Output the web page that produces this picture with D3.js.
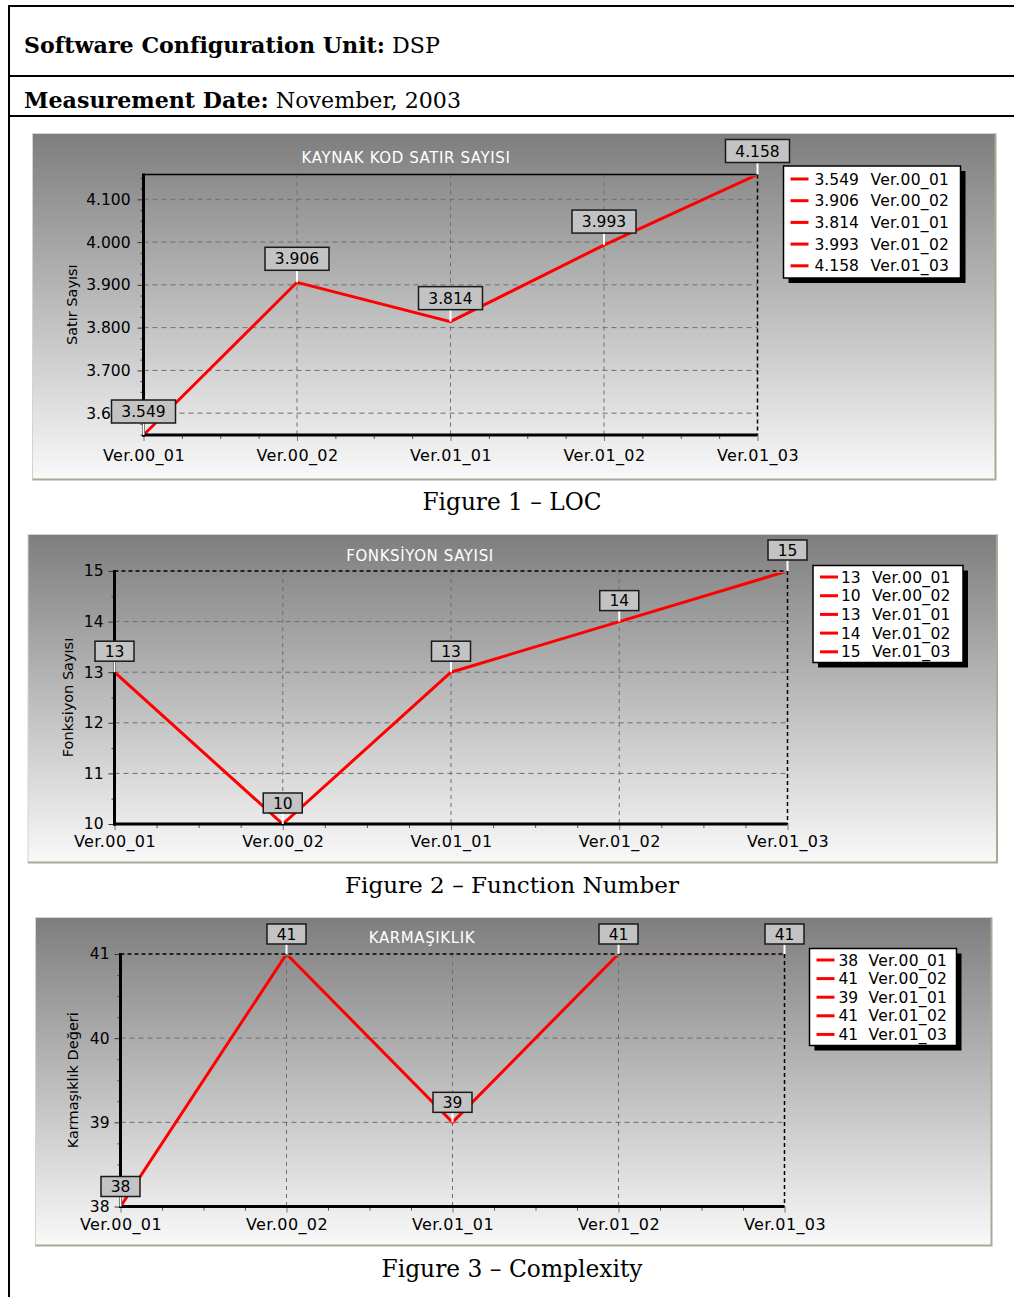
<!DOCTYPE html>
<html><head><meta charset="utf-8">
<script src="https://cdn.jsdelivr.net/npm/d3@7"></script>
<style>body{margin:0;background:#fff}svg{display:block}</style>
</head><body>
<svg id="page" width="1014" height="1297"></svg>
<script>
// Software versions measured
const versions = ["Ver.00_01", "Ver.00_02", "Ver.01_01", "Ver.01_02", "Ver.01_03"];

// Figure 1: source lines of code
const locValues = [3549, 3906, 3814, 3993, 4158];
const locTicks = [3600, 3700, 3800, 3900, 4000, 4100];

// Figure 2: number of functions
const functionValues = [13, 10, 13, 14, 15];
const functionTicks = [10, 11, 12, 13, 14, 15];

// Figure 3: complexity value
const complexityValues = [38, 41, 39, 41, 41];
const complexityTicks = [38, 39, 40, 41];

const trLocale = d3.formatLocale({decimal: ",", thousands: ".", grouping: [3], currency: ["", "₺"]});
const fmtThousands = trLocale.format(",d");
const fmtInt = d3.format("d");

const svg = d3.select("#page");
const defs = svg.append("defs");
const grad = defs.append("linearGradient").attr("id", "panelGrad")
  .attr("x1", 0).attr("y1", 0).attr("x2", 0).attr("y2", 1);
grad.append("stop").attr("offset", "0%").attr("stop-color", "#7e7e7e");
grad.append("stop").attr("offset", "100%").attr("stop-color", "#f9f9f9");

const SANS = "'DejaVu Sans', Verdana, sans-serif";
const SERIF = "'DejaVu Serif', 'Liberation Serif', serif";

// Table frame
const frame = svg.append("g").attr("stroke", "#000").attr("stroke-width", 2);
frame.append("line").attr("x1", 9).attr("x2", 1014).attr("y1", 6).attr("y2", 6);
frame.append("line").attr("x1", 9).attr("x2", 9).attr("y1", 5).attr("y2", 1297);
frame.append("line").attr("x1", 9).attr("x2", 1014).attr("y1", 76).attr("y2", 76);
frame.append("line").attr("x1", 9).attr("x2", 1014).attr("y1", 116).attr("y2", 116);

// Serif text sized so that it spans a target width
function serifText(x, y, parts, size, targetWidth, anchor) {
  const t = svg.append("text").attr("x", x).attr("y", y)
    .attr("font-family", SERIF).attr("font-size", size).attr("fill", "#000")
    .attr("text-anchor", anchor || "start");
  parts.forEach(p => t.append("tspan").attr("font-weight", p.bold ? "bold" : "normal").text(p.text));
  const w = t.node().getComputedTextLength();
  if (targetWidth && w > 0) {
    const s = size * targetWidth / w;
    t.attr("font-size", s.toFixed(2));
    const w2 = t.node().getComputedTextLength();
    const n = parts.reduce((a, p) => a + p.text.length, 0);
    t.attr("letter-spacing", ((targetWidth - w2) / n).toFixed(3));
  }
  return t;
}

serifText(24, 53, [{text: "Software Configuration Unit:", bold: true}, {text: " DSP"}], 21, 414);
serifText(24, 108, [{text: "Measurement Date:", bold: true}, {text: " November, 2003"}], 21, 437);

function drawChart(cfg) {
  const g = svg.append("g");
  const P = cfg.panel, A = cfg.plot;

  // panel background with bevel edge
  g.append("rect").attr("x", P.x).attr("y", P.y).attr("width", P.w).attr("height", P.h)
    .attr("fill", "url(#panelGrad)").attr("stroke", "#d6d3cc").attr("stroke-width", 1);
  g.append("path")
    .attr("d", `M${P.x},${P.y + P.h}H${P.x + P.w}V${P.y}`)
    .attr("fill", "none").attr("stroke", "#aca899").attr("stroke-width", 2);

  const x = d3.scalePoint().domain(cfg.categories).range([A.left, A.right]);
  const y = d3.scaleLinear().domain(d3.extent(cfg.values)).range([A.bottom, A.top]);
  const idx = d3.scaleLinear().domain([0, cfg.categories.length - 1]).range([A.left, A.right]);

  // horizontal grid
  g.append("g").selectAll("line")
    .data(cfg.ticks.filter(t => y(t) < A.bottom - 2 && y(t) > A.top + 2))
    .join("line")
    .attr("x1", A.left).attr("x2", A.right)
    .attr("y1", d => y(d)).attr("y2", d => y(d))
    .attr("stroke", "#6e6e6e").attr("stroke-width", 1).attr("stroke-dasharray", "5,4");

  // vertical grid
  g.append("g").selectAll("line")
    .data(cfg.categories.slice(1, -1))
    .join("line")
    .attr("x1", d => x(d)).attr("x2", d => x(d))
    .attr("y1", A.top).attr("y2", A.bottom)
    .attr("stroke", "#6e6e6e").attr("stroke-width", 1).attr("stroke-dasharray", "4,4");

  // top and right frame
  g.append("line").attr("x1", A.left).attr("x2", A.right).attr("y1", A.top).attr("y2", A.top)
    .attr("stroke", "#000").attr("stroke-width", 1.5)
    .attr("stroke-dasharray", cfg.topSolid ? null : "4,3");
  g.append("line").attr("x1", A.right).attr("x2", A.right).attr("y1", A.top).attr("y2", A.bottom)
    .attr("stroke", "#000").attr("stroke-width", 1.5).attr("stroke-dasharray", "4,3");

  // data line, clipped to the plot interior
  const clipId = "clip" + cfg.id;
  defs.append("clipPath").attr("id", clipId).append("rect")
    .attr("x", A.left).attr("y", A.top + 1.7).attr("width", A.right - A.left + 3).attr("height", A.bottom - A.top);
  const line = d3.line().x((d, i) => x(cfg.categories[i])).y(d => y(d));
  g.append("path").datum(cfg.values).attr("d", line)
    .attr("clip-path", `url(#${clipId})`)
    .attr("fill", "none").attr("stroke", "#ff0000").attr("stroke-width", 3).attr("stroke-linejoin", "miter");

  // y axis
  const yAxis = d3.axisLeft(y).tickValues(cfg.ticks).tickFormat(cfg.format).tickSize(6).tickPadding(cfg.yPad);
  const ya = g.append("g").attr("transform", `translate(${A.left},0)`).call(yAxis);
  ya.select(".domain").remove();
  ya.selectAll(".tick line").attr("stroke", "#333");
  ya.selectAll(".tick text").attr("font-family", SANS).attr("font-size", cfg.tickFont).attr("fill", "#000");
  const [vmin, vmax] = d3.extent(cfg.values);
  const minorY = d3.range(Math.ceil(vmin / cfg.minorStep) * cfg.minorStep, vmax + 1e-9, cfg.minorStep)
    .filter(v => !cfg.ticks.includes(v));
  const ym = g.append("g").attr("transform", `translate(${A.left},0)`)
    .call(d3.axisLeft(y).tickValues(minorY).tickSize(3).tickFormat(""));
  ym.select(".domain").remove();
  ym.selectAll(".tick line").attr("stroke", "#444");

  // x axis
  const xAxis = d3.axisBottom(x).tickSize(6).tickPadding(cfg.xPad);
  const xa = g.append("g").attr("transform", `translate(0,${A.bottom})`).call(xAxis);
  xa.select(".domain").remove();
  xa.selectAll(".tick line").attr("stroke", "#777");
  xa.selectAll(".tick text").attr("font-family", SANS).attr("font-size", 16).attr("fill", "#000")
    .attr("letter-spacing", 0.4);
  const minorX = d3.range(0, cfg.categories.length - 1, 0.25).filter(v => v % 1 !== 0);
  const xm = g.append("g").attr("transform", `translate(0,${A.bottom})`)
    .call(d3.axisBottom(idx).tickValues(minorX).tickSize(4).tickFormat(""));
  xm.select(".domain").remove();
  xm.selectAll(".tick line").attr("stroke", "#555");

  // thick left and bottom axis lines
  g.append("line").attr("x1", A.left).attr("x2", A.left).attr("y1", A.top - 1).attr("y2", A.bottom + 1.5)
    .attr("stroke", "#000").attr("stroke-width", 3);
  g.append("line").attr("x1", A.left - 1.5).attr("x2", A.right).attr("y1", A.bottom).attr("y2", A.bottom)
    .attr("stroke", "#000").attr("stroke-width", 3);

  // chart title
  g.append("text").attr("x", cfg.titleX).attr("y", cfg.titleY).attr("text-anchor", "middle")
    .attr("font-family", SANS).attr("font-size", 15).attr("letter-spacing", 0.6)
    .attr("fill", "#fff").text(cfg.title);

  // y axis title
  g.append("text").attr("transform", `translate(${cfg.yTitleX},${(A.top + A.bottom) / 2}) rotate(-90)`)
    .attr("text-anchor", "middle").attr("font-family", SANS).attr("font-size", 14.5).attr("fill", "#000")
    .text(cfg.yTitle);

  // value labels
  const lab = g.append("g").selectAll("g").data(cfg.values).join("g")
    .attr("transform", (d, i) => `translate(${x(cfg.categories[i])},${y(d)})`);
  lab.append("line").attr("x1", 0).attr("x2", 0).attr("y1", -cfg.boxGap).attr("y2", 0)
    .attr("stroke", "#fff").attr("stroke-width", 2);
  lab.append("rect").attr("x", -cfg.boxW / 2).attr("y", -cfg.boxGap - cfg.boxH)
    .attr("width", cfg.boxW).attr("height", cfg.boxH)
    .attr("fill", "#c3c3c3").attr("stroke", "#1a1a1a").attr("stroke-width", 1.5);
  lab.append("text").attr("x", 0).attr("y", -cfg.boxGap - cfg.boxH / 2).attr("dy", "0.36em")
    .attr("text-anchor", "middle").attr("font-family", SANS).attr("font-size", 15.5).attr("fill", "#000")
    .text(d => cfg.format(d));

  // legend
  const L = cfg.legend;
  g.append("rect").attr("x", L.x + 5).attr("y", L.y + 5).attr("width", L.w).attr("height", L.h).attr("fill", "#000");
  g.append("rect").attr("x", L.x).attr("y", L.y).attr("width", L.w).attr("height", L.h)
    .attr("fill", "#fff").attr("stroke", "#000").attr("stroke-width", 1.5);
  const rows = g.append("g").selectAll("g").data(cfg.values).join("g")
    .attr("transform", (d, i) => `translate(${L.x},${L.y + L.first + i * L.rowH})`);
  rows.append("line").attr("x1", L.markX).attr("x2", L.markX + 18).attr("y1", 0).attr("y2", 0)
    .attr("stroke", "#ff0000").attr("stroke-width", 3);
  rows.append("text").attr("x", L.valX).attr("dy", "0.36em").attr("font-family", SANS)
    .attr("font-size", 15.5).attr("fill", "#000").text(d => cfg.format(d));
  rows.append("text").attr("x", L.catX).attr("dy", "0.36em").attr("font-family", SANS)
    .attr("font-size", 15.5).attr("letter-spacing", 0.3).attr("fill", "#000").text((d, i) => cfg.categories[i]);

  // caption
  serifText(512, cfg.captionY, [{text: cfg.caption}], 22, cfg.captionW, "middle");
}

drawChart({
  id: 1, categories: versions, values: locValues, ticks: locTicks, format: fmtThousands,
  minorStep: 25, topSolid: true,
  panel: {x: 32.5, y: 133.5, w: 963, h: 346},
  plot: {left: 143.5, right: 757.5, top: 174.5, bottom: 435},
  title: "KAYNAK KOD SATIR SAYISI", titleX: 406, titleY: 163,
  yTitle: "Satır Sayısı", yTitleX: 77, tickFont: 15.5, yPad: 7, xPad: 9,
  boxW: 64, boxH: 23, boxGap: 12,
  legend: {x: 783.5, y: 166, w: 177, h: 112, first: 13, rowH: 21.7, markX: 7, valX: 31, catX: 87},
  caption: "Figure 1 – LOC", captionY: 510, captionW: 179
});

drawChart({
  id: 2, categories: versions, values: functionValues, ticks: functionTicks, format: fmtInt,
  minorStep: 0.5, topSolid: false,
  panel: {x: 28, y: 534.5, w: 969, h: 328},
  plot: {left: 114.5, right: 787.5, top: 571, bottom: 824},
  title: "FONKSİYON SAYISI", titleX: 420, titleY: 561,
  yTitle: "Fonksiyon Sayısı", yTitleX: 73, tickFont: 15.5, yPad: 5, xPad: 6,
  boxW: 39, boxH: 20, boxGap: 11,
  legend: {x: 813, y: 565.5, w: 150, h: 97, first: 11.5, rowH: 18.7, markX: 7, valX: 28, catX: 59},
  caption: "Figure 2 – Function Number", captionY: 893, captionW: 334
});

drawChart({
  id: 3, categories: versions, values: complexityValues, ticks: complexityTicks, format: fmtInt,
  minorStep: 0.25, topSolid: false,
  panel: {x: 35.5, y: 917.5, w: 956, h: 328},
  plot: {left: 120.5, right: 784.5, top: 954, bottom: 1206.5},
  title: "KARMAŞIKLIK", titleX: 422, titleY: 943,
  yTitle: "Karmaşıklık Değeri", yTitleX: 78, tickFont: 15.5, yPad: 5, xPad: 6,
  boxW: 39, boxH: 20, boxGap: 10,
  legend: {x: 809.5, y: 948.5, w: 147, h: 97, first: 11.5, rowH: 18.6, markX: 7, valX: 29, catX: 59},
  caption: "Figure 3 – Complexity", captionY: 1277, captionW: 261
});
</script>
</body></html>
